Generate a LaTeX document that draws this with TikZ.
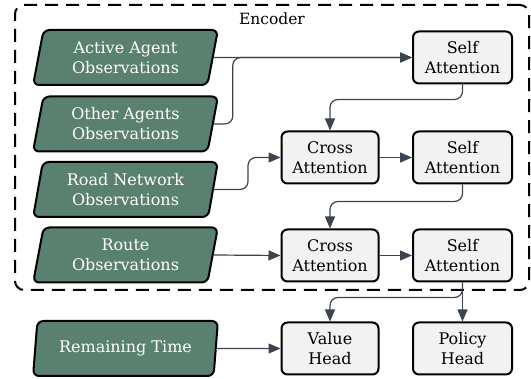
\documentclass[tikz,border=0pt]{standalone}
\usepackage{fontspec}
\setmainfont{DejaVu Serif}
\usetikzlibrary{shapes.geometric,arrows.meta}
\definecolor{obsgreen}{HTML}{5A8070}
\definecolor{boxgray}{HTML}{F2F2F2}
\definecolor{arrowgray}{HTML}{3C4450}
\tikzset{
  obs/.style={trapezium, trapezium left angle=78, trapezium right angle=102,
    trapezium stretches=true, minimum width=185pt, minimum height=55pt,
    draw=black, line width=2pt, fill=obsgreen, rounded corners=6pt,
    text=white, align=center, font=\fontsize{16}{20}\selectfont, inner sep=0pt},
  blk/.style={rectangle, draw=black, line width=2pt, fill=boxgray, rounded corners=6pt,
    minimum width=97pt, minimum height=52pt, align=center,
    font=\fontsize{16}{20}\selectfont, inner sep=0pt},
  arr/.style={draw=arrowgray, line width=1.2pt, rounded corners=8pt,
    -{Triangle[length=12pt,width=10pt]}},
  encbox/.style={draw=black, line width=2pt, dash pattern=on 13pt off 8pt,
    rounded corners=9pt, minimum width=514pt, minimum height=285pt, inner sep=0pt}
}
\begin{document}
\begin{tikzpicture}[x=1pt,y=-1pt]
\useasboundingbox (0,0) rectangle (531,379);
\node[encbox] (enc) at (272,147.5) {};
\node[font=\fontsize{15.5}{18}\selectfont] (enclabel) at (272,19) {Encoder};

\node[obs] (aa) at (125.5,57.5) {Active Agent\\Observations};
\node[obs] (oa) at (125.5,124) {Other Agents\\Observations};
\node[obs] (rn) at (125.5,189.5) {Road Network\\Observations};
\node[obs] (ro) at (125.5,255) {Route\\Observations};
\node[obs] (rt) at (125.5,348.5) {Remaining Time};

\node[blk, minimum width=99pt] (sa1) at (462.5,57.5) {Self\\Attention};
\node[blk] (ca1) at (330,157.5) {Cross\\Attention};
\node[blk, minimum width=99pt] (sa2) at (462.5,157.5) {Self\\Attention};
\node[blk] (ca2) at (330,255.5) {Cross\\Attention};
\node[blk, minimum width=99pt] (sa3) at (462.5,255.5) {Self\\Attention};
\node[blk] (vh) at (330,348.5) {Value\\Head};
\node[blk, minimum width=99pt] (ph) at (462.5,348.5) {Policy\\Head};

\draw[arr] (aa.east) -- (sa1.west);
\draw[arr] (oa.east) -- ++(19,0) |- (sa1.west);
\draw[arr] (sa1.south) -- ++(0,15) -| (ca1.north);
\draw[arr] (rn.east) -- ++(34,0) |- (ca1.west);
\draw[arr] (ca1.east) -- (sa2.west);
\draw[arr] (sa2.south) -- ++(0,17) -| (ca2.north);
\draw[arr] (ro.east) -- (ca2.west);
\draw[arr] (ca2.east) -- (sa3.west);
\draw[arr] (sa3.south) -- (ph.north);
\draw[arr] (sa3.south) -- ++(0,15) -| (vh.north);
\draw[arr] (rt.east) -- (vh.west);
\end{tikzpicture}
\end{document}
